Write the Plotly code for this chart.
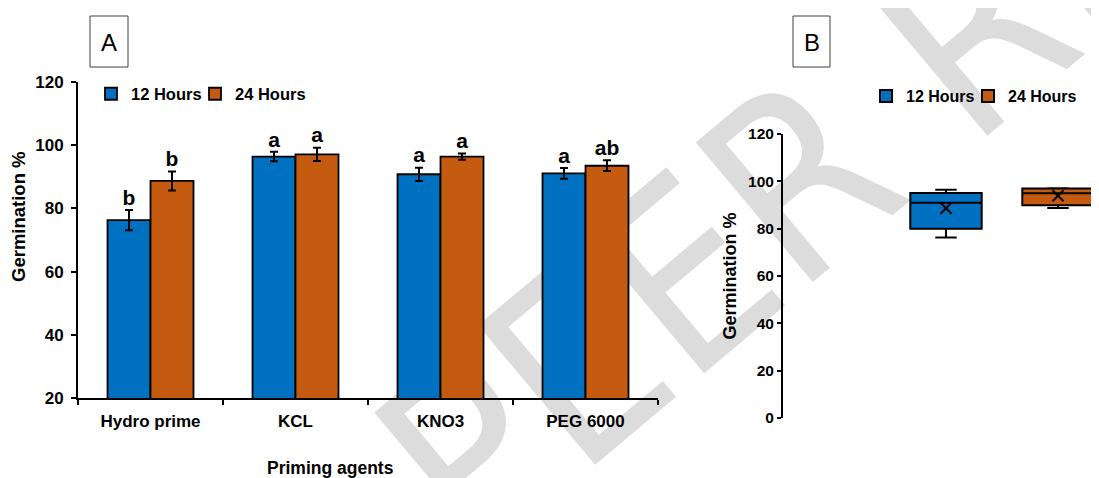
import numpy as np
import plotly.graph_objects as go

# ---------------- data ----------------
agents = ["Hydro prime", "KCL", "KNO3", "PEG 6000"]
series_names = ["12 Hours", "24 Hours"]
germ_12h = [76.3, 96.4, 90.8, 91.1]
germ_24h = [88.7, 97.1, 96.4, 93.5]
err_12h = [3.2, 1.5, 2.1, 1.7]
err_24h = [3.0, 2.1, 1.0, 1.7]
letters_12h = ["b", "a", "a", "a"]
letters_24h = ["b", "a", "a", "ab"]
yticks_a = [20, 40, 60, 80, 100, 120]
yticks_b = [0, 20, 40, 60, 80, 100, 120]
x_title = "Priming agents"
y_title = "Germination %"
panel_labels = ["A", "B"]
watermark_text = "PEER REVIEW"

# ---------------- style ----------------
VW, VH = 1099, 478          # browser window
OFF = 8                     # default page (body) margin
W, H = VW - OFF, VH - OFF   # figure size
COLORS = ["#0070C0", "#C55A11"]
FONT = "Liberation Sans, Arial, sans-serif"
WM_FONT = ("Noto Sans ExtraCondensed, Noto Sans Condensed, DejaVu Sans Condensed, "
           "Liberation Sans Narrow, Liberation Sans, sans-serif")
BOLD = dict(family=FONT, color="black", weight="bold")


def px(x):
    """window pixel -> paper fraction"""
    return (x - OFF) / W


def py(y):
    return 1 - (y - OFF) / H


fig = go.Figure()

# ---- watermark (background subplot, drawn first so it sits behind) ----
WM_CX, WM_CY, WM_ANGLE, WM_SIZE = 1005, 8, -40, 250
fig.add_trace(go.Bar(
    x=[WM_CX], y=[400], base=[WM_CY - 200], width=[2],
    xaxis="x", yaxis="y",
    text=[watermark_text], textposition="inside", insidetextanchor="middle",
    textangle=WM_ANGLE, constraintext="none", cliponaxis=False,
    textfont=dict(family=WM_FONT, size=WM_SIZE, color="#dcdcdc"),
    marker=dict(color="rgba(0,0,0,0)", line=dict(width=0)),
    showlegend=False, hoverinfo="skip",
))

# ---- panel A: grouped bars with error bars ----
vals = [germ_12h, germ_24h]
errs = [err_12h, err_24h]
lets = [letters_12h, letters_24h]
for i, name in enumerate(series_names):
    fig.add_trace(go.Bar(
        x=agents, y=vals[i], name=name, xaxis="x2", yaxis="y2",
        offsetgroup=name, legend="legend" if i == 0 else "legend2",
        marker=dict(color=COLORS[i], line=dict(color="black", width=1.8)),
        error_y=dict(type="data", array=errs[i], color="black", thickness=2, width=4),
    ))
for i, name in enumerate(series_names):
    tops = [v + e for v, e in zip(vals[i], errs[i])]
    fig.add_trace(go.Scatter(
        x=agents, y=tops, mode="text", text=lets[i], textposition="top center",
        offsetgroup=name, xaxis="x2", yaxis="y2", showlegend=False,
        textfont=dict(size=21, **BOLD), hoverinfo="skip", cliponaxis=False,
    ))

# ---- panel B: box plot summarising the four agents ----
for i, name in enumerate(series_names):
    v = np.array(vals[i])
    q1, med, q3 = np.percentile(v, [25, 50, 75], method="weibull")
    fig.add_trace(go.Box(
        x=[name], q1=[q1], median=[med], q3=[q3],
        lowerfence=[v.min()], upperfence=[v.max()],
        name=name, xaxis="x3", yaxis="y3",
        legend="legend3" if i == 0 else "legend4",
        fillcolor=COLORS[i], line=dict(color="black", width=2),
        whiskerwidth=0.3,
    ))
    fig.add_trace(go.Scatter(
        x=[name], y=[v.mean()], mode="markers", xaxis="x3", yaxis="y3",
        marker=dict(symbol="x-thin", size=11, line=dict(color="black", width=2)),
        showlegend=False, hoverinfo="skip",
    ))


def legend_at(x, y, size):
    return dict(orientation="h", x=px(x), y=py(y), xanchor="left", yanchor="middle",
                font=dict(size=size, **BOLD), bgcolor="rgba(0,0,0,0)", itemwidth=30)


fig.update_layout(
    width=W, height=H, margin=dict(l=0, r=0, t=0, b=0, autoexpand=False),
    paper_bgcolor="white", plot_bgcolor="rgba(0,0,0,0)",
    barmode="group", bargap=0.407, bargroupgap=0,
    scattermode="group", scattergap=0.407,
    boxmode="overlay", boxgap=0.089,
    showlegend=True,
    xaxis=dict(domain=[0, 1], range=[OFF, VW], visible=False, fixedrange=True),
    yaxis=dict(domain=[0, 1], range=[VH, OFF], visible=False, fixedrange=True),
    xaxis2=dict(
        domain=[px(78), px(658)], anchor="y2", type="category",
        range=[-0.5, 3.5], tickson="boundaries",
        showline=True, linecolor="black", linewidth=2,
        ticks="outside", ticklen=5, tickwidth=2, tickcolor="black",
        ticklabelstandoff=7,
        tickfont=dict(size=17, **BOLD), showgrid=False, zeroline=False,
    ),
    yaxis2=dict(
        domain=[py(398), py(82)], anchor="x2", range=[20, 120],
        tickvals=yticks_a, showline=True, linecolor="black", linewidth=2,
        ticks="outside", ticklen=5, tickwidth=2, tickcolor="black",
        ticklabelstandoff=4,
        tickfont=dict(size=17, **BOLD), showgrid=False, zeroline=False,
    ),
    xaxis3=dict(
        domain=[px(783), 1.0], anchor="y3", type="category",
        categoryorder="array", categoryarray=series_names,
        range=[-1.455, 1.366], visible=False,
    ),
    yaxis3=dict(
        domain=[py(418), py(134)], anchor="x3", range=[0, 120],
        tickvals=yticks_b, showline=True, linecolor="black", linewidth=2,
        ticks="outside", ticklen=4, tickwidth=2, tickcolor="black",
        ticklabelstandoff=0,
        tickfont=dict(size=15.5, **BOLD), showgrid=False, zeroline=False,
        title=dict(text=y_title, font=dict(size=18, **BOLD), standoff=7),
    ),
    legend=legend_at(91, 94, 16.5),
    legend2=legend_at(195, 94, 16.5),
    legend3=legend_at(866, 96, 16),
    legend4=legend_at(968, 96, 16),
)

# axis titles of panel A
fig.add_annotation(
    text=x_title, xref="paper", yref="paper", x=px(330), y=py(468),
    xanchor="center", yanchor="middle", showarrow=False,
    font=dict(size=17.5, **BOLD),
)
fig.add_annotation(
    text=y_title, xref="paper", yref="paper", x=px(18), y=py(217),
    xanchor="center", yanchor="middle", showarrow=False, textangle=-90,
    font=dict(size=18.5, **BOLD),
)

# panel label boxes
for lab, (x0, x1) in zip(panel_labels, [(90, 128), (793, 830)]):
    fig.add_shape(type="rect", xref="paper", yref="paper",
                  x0=px(x0), x1=px(x1), y0=py(67), y1=py(16),
                  line=dict(color="#404040", width=1), fillcolor="white")
    fig.add_annotation(text=lab, xref="paper", yref="paper",
                       x=px((x0 + x1) / 2), y=py(42), showarrow=False,
                       xanchor="center", yanchor="middle",
                       font=dict(family=FONT, size=24, color="black"))

fig.write_html("out.html")
